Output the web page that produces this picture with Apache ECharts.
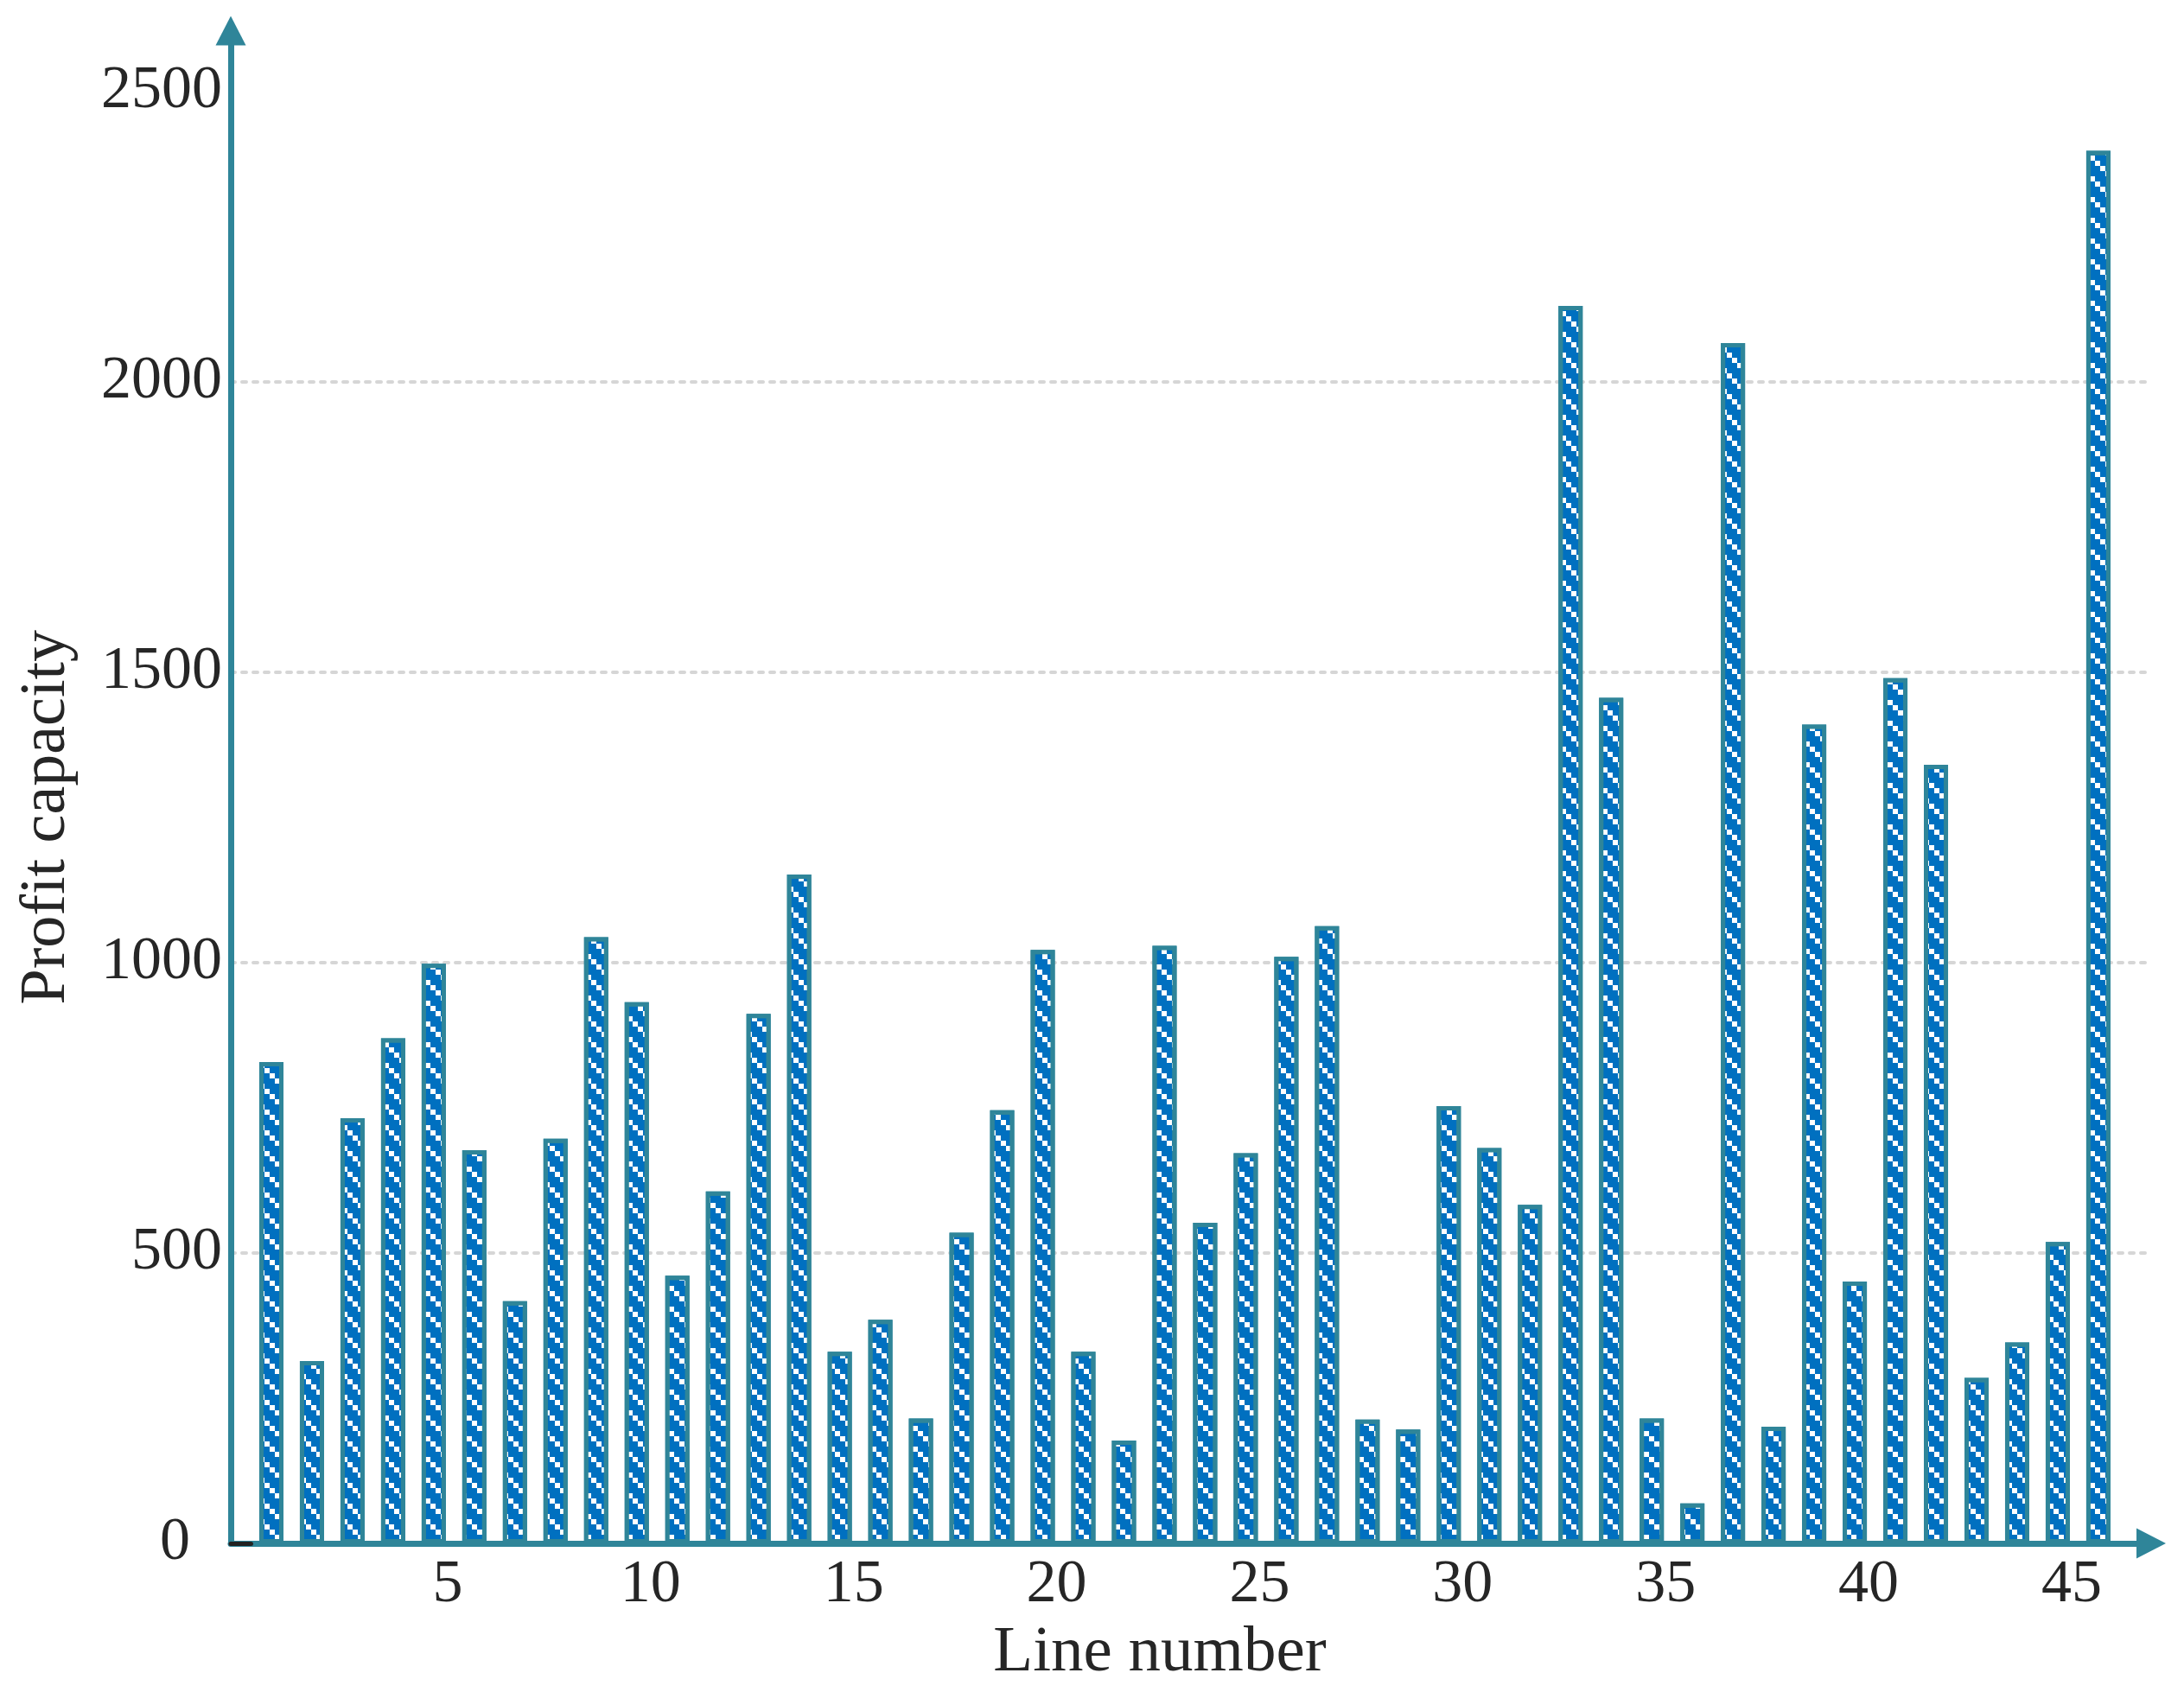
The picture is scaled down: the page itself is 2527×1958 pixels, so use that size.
<!DOCTYPE html>
<html>
<head>
    <meta charset="utf-8">
    <title>Profit capacity by line</title>
    <script src="https://cdn.jsdelivr.net/npm/echarts@6/dist/echarts.min.js"></script>
    <style>
        html, body { margin: 0; padding: 0; background: #fff; }
        #main { width: 2527px; height: 1958px; }
    </style>
</head>
<body>
<div id="main"></div>
<script>
    // line numbers 1..46 and their profit capacity
    const lineNumbers = [
        1, 2, 3, 4, 5, 6, 7, 8, 9, 10,
        11, 12, 13, 14, 15, 16, 17, 18, 19, 20,
        21, 22, 23, 24, 25, 26, 27, 28, 29, 30,
        31, 32, 33, 34, 35, 36, 37, 38, 39, 40,
        41, 42, 43, 44, 45, 46
    ];
    const profit = [
        829, 314, 732, 870, 998, 677, 417, 697, 1044, 932,
        461, 606, 912, 1152, 330, 385, 215, 535, 746, 1022,
        330, 177, 1029, 552, 672, 1010, 1063, 213, 196, 753,
        681, 583, 2131, 1456, 215, 69, 2067, 201, 1410, 451,
        1490, 1341, 285, 346, 519, 2398
    ];
    const xTicks = [5, 10, 15, 20, 25, 30, 35, 40, 45];
    const yTicks = [0, 500, 1000, 1500, 2000, 2500];
    const originTick = [0, 0.5];

    const teal = '#2f8599';
    const barBlue = '#0070c0';
    const textColor = '#262626';
    const font = 'Liberation Serif';

    var myChart = echarts.init(document.getElementById('main'));

    // grid lines only for 500..2000 (0 sits under the axis, 2500 has none)
    const gridColors = yTicks.map(v => (v < 2500 ? '#d6d6d6' : 'rgba(0,0,0,0)'));
    gridColors.push('rgba(0,0,0,0)');

    option = {
        backgroundColor: '#ffffff',
        animation: false,
        grid: {
            left: 267,
            right: 38,
            top: 35.5,
            bottom: 172,
            containLabel: false
        },
        xAxis: {
            type: 'value',
            min: 0,
            max: 47.3,
            interval: 5,
            name: 'Line number',
            nameLocation: 'middle',
            nameGap: 90,
            nameTextStyle: {
                fontFamily: font,
                fontSize: 75,
                color: textColor,
                padding: [0, 72, 0, 0]
            },
            axisLine: {
                lineStyle: { color: teal, width: 7 },
                symbol: ['none', 'triangle'],
                symbolSize: [35, 34]
            },
            axisTick: { show: false },
            splitLine: { show: false },
            axisLabel: {
                showMaxLabel: false,
                fontFamily: font,
                fontSize: 70,
                color: textColor,
                margin: 14,
                padding: [0, 0, 0, 32],
                formatter: function (v) {
                    return xTicks.indexOf(v) >= 0 ? String(v) : '';
                }
            }
        },
        yAxis: {
            type: 'value',
            min: 0,
            max: 2605,
            interval: 500,
            name: 'Profit capacity',
            nameLocation: 'middle',
            nameGap: 175,
            nameTextStyle: {
                fontFamily: font,
                fontSize: 74,
                color: textColor,
                padding: [0, 70, 0, 0]
            },
            axisLine: {
                show: true,
                lineStyle: { color: teal, width: 7 },
                symbol: ['none', 'triangle'],
                symbolSize: [35, 34]
            },
            axisTick: { show: false },
            splitLine: {
                show: true,
                showMaxLine: false,
                lineStyle: {
                    color: gridColors,
                    width: 4,
                    type: [5, 8],
                    cap: 'round'
                }
            },
            axisLabel: {
                showMaxLabel: false,
                fontFamily: font,
                fontSize: 70,
                color: textColor,
                margin: 10,
                formatter: function (v) {
                    if (v === 0) return '{z|0}';
                    return yTicks.indexOf(v) >= 0 ? String(v) : '';
                },
                rich: {
                    z: {
                        fontFamily: font,
                        fontSize: 70,
                        color: textColor,
                        padding: [0, 37, 0, 0]
                    }
                }
            }
        },
        series: [{
            type: 'bar',
            barWidth: 28,
            data: lineNumbers.map((n, i) => [n, profit[i]]),
            itemStyle: {
                color: barBlue,
                borderColor: teal,
                borderWidth: 5,
                decal: {
                    symbol: 'rect',
                    symbolSize: 1,
                    color: '#ffffff',
                    dashArrayX: [[6, 18], [0, 6, 6, 12], [0, 12, 6, 6], [0, 18, 6, 0]],
                    dashArrayY: [6, 0]
                }
            },
            // short dark mark at the origin
            markLine: {
                silent: true,
                symbol: 'none',
                label: { show: false },
                lineStyle: { color: '#222222', width: 5, type: 'solid', cap: 'round' },
                data: [[{ coord: [originTick[0], 0] }, { coord: [originTick[1], 0] }]]
            }
        }]
    };
    myChart.setOption(option);
</script>
</body>
</html>
